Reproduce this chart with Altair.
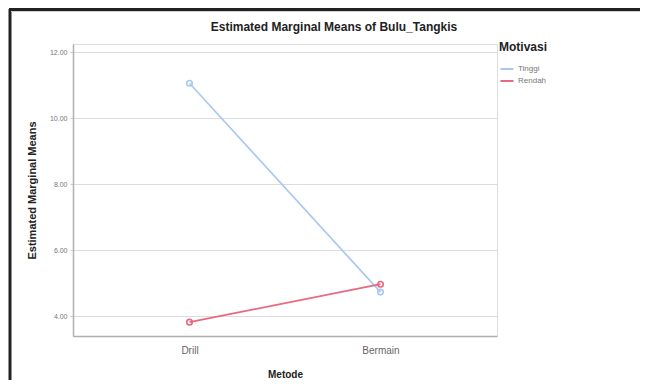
import altair as alt
import pandas as pd

metode = ["Drill", "Bermain", "Drill", "Bermain"]
motivasi = ["Tinggi", "Tinggi", "Rendah", "Rendah"]
means = [11.06, 4.73, 3.82, 4.97]

groups = ["Tinggi", "Rendah"]
colors = ["#a9c8ef", "#e8687f"]
y_ticks = [4, 6, 8, 10, 12]

df = pd.DataFrame({"Metode": metode, "Motivasi": motivasi, "Mean": means})

FONT = "Liberation Sans"

x_enc = alt.X(
    "Metode:N",
    sort=["Drill", "Bermain"],
    scale=alt.Scale(type="point", padding=0.61),
    axis=alt.Axis(
        title="Metode", titleFont=FONT, titleFontSize=10, titleFontWeight="bold",
        titleColor="#222", titlePadding=14,
        labelFont=FONT, labelFontSize=10, labelColor="#666", labelPadding=9,
        labelAngle=0, ticks=False, domainColor="#b0b0b0", domainWidth=1.5, grid=False,
    ),
)
y_enc = alt.Y(
    "Mean:Q",
    scale=alt.Scale(domain=[3.4, 12.25], nice=False, zero=False),
    axis=alt.Axis(
        title="Estimated Marginal Means", titleFont=FONT, titleFontSize=11,
        titleFontWeight="bold", titleColor="#222", titlePadding=12,
        values=y_ticks, format=".2f", labelFont=FONT, labelFontSize=7,
        labelColor="#777", labelPadding=3, tickSize=3, tickColor="#ccc",
        domainColor="#b0b0b0", domainWidth=1.5, grid=True, gridColor="#dcdcdc",
        gridWidth=1,
    ),
)
color_enc = alt.Color(
    "Motivasi:N",
    scale=alt.Scale(domain=groups, range=colors),
    sort=groups,
    legend=alt.Legend(
        title="Motivasi", orient="none", legendX=426, legendY=-2,
        titleFont=FONT, titleFontSize=12, titleFontWeight="bold", titleColor="#222",
        labelFont=FONT, labelFontSize=8, labelColor="#777",
        symbolType="stroke", symbolSize=170, symbolStrokeWidth=2,
        rowPadding=0, titlePadding=7, labelOffset=3,
    ),
)

lines = alt.Chart(df).mark_line(strokeWidth=1.7).encode(
    x=x_enc, y=y_enc, color=color_enc, detail="Motivasi:N"
)
points = alt.Chart(df).mark_point(
    shape="circle", filled=False, size=30, strokeWidth=1.6, opacity=1
).encode(x=x_enc, y=y_enc, color=alt.Color("Motivasi:N", scale=alt.Scale(domain=groups, range=colors), legend=None))

frame_df = pd.DataFrame({"a": [0]})
left_border = alt.Chart(frame_df).mark_rule(color="#222", strokeWidth=3).encode(
    x=alt.value(-63), y=alt.value(-35), y2=alt.value(345)
)
top_border = alt.Chart(frame_df).mark_rule(color="#222", strokeWidth=3).encode(
    x=alt.value(-64), x2=alt.value(570), y=alt.value(-34.5)
)
top_shadow = alt.Chart(frame_df).mark_rule(color="#cfcfcf", strokeWidth=1).encode(
    x=alt.value(-62), x2=alt.value(570), y=alt.value(-32.5)
)

chart = alt.layer(lines, points, left_border, top_border, top_shadow).properties(
    width=424,
    height=292,
    autosize=alt.AutoSizeParams(type="none"),
    padding={"left": 65, "top": 36, "right": 143, "bottom": 44},
    title=alt.TitleParams(
        "Estimated Marginal Means of Bulu_Tangkis", font=FONT, fontSize=12,
        fontWeight="bold", color="#222", anchor="middle", frame="group",
        dx=49, offset=-26,
    ),
).configure_view(stroke=None).configure(background="white")

chart.save("out.html", embed_options={"renderer": "svg", "actions": False})
